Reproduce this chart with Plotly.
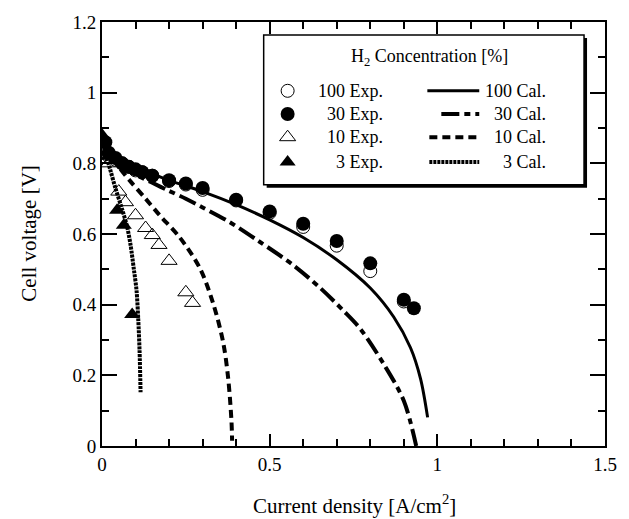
import plotly.graph_objects as go

# ---------------- data ----------------
x_100_exp = [0.0, 0.02, 0.04, 0.06, 0.08, 0.10, 0.12, 0.15, 0.20, 0.25, 0.30, 0.40, 0.50, 0.60, 0.70, 0.80, 0.90]
y_100_exp = [0.83, 0.82, 0.81, 0.80, 0.79, 0.78, 0.775, 0.765, 0.75, 0.74, 0.725, 0.695, 0.66, 0.62, 0.567, 0.495, 0.409]

x_30_exp = [0.01, 0.02, 0.04, 0.06, 0.08, 0.10, 0.12, 0.15, 0.20, 0.25, 0.30, 0.40, 0.50, 0.60, 0.70, 0.80, 0.90, 0.93]
y_30_exp = [0.86, 0.83, 0.815, 0.80, 0.79, 0.783, 0.775, 0.765, 0.752, 0.743, 0.73, 0.697, 0.664, 0.629, 0.58, 0.517, 0.414, 0.39]

x_10_exp = [0.0, 0.02, 0.05, 0.07, 0.10, 0.13, 0.15, 0.17, 0.20, 0.25, 0.27]
y_10_exp = [0.87, 0.80, 0.72, 0.69, 0.653, 0.617, 0.597, 0.569, 0.524, 0.435, 0.405]

x_3_exp = [0.0, 0.02, 0.045, 0.065, 0.09]
y_3_exp = [0.88, 0.82, 0.667, 0.625, 0.372]

x_100_cal = [0.0, 0.01, 0.03, 0.05, 0.10, 0.15, 0.20, 0.30, 0.40, 0.50, 0.60, 0.70, 0.80, 0.87, 0.92, 0.95, 0.971]
y_100_cal = [0.885, 0.86, 0.835, 0.82, 0.79, 0.77, 0.752, 0.72, 0.683, 0.64, 0.59, 0.527, 0.447, 0.365, 0.278, 0.19, 0.081]

x_30_cal = [0.0, 0.02, 0.05, 0.10, 0.15, 0.20, 0.25, 0.30, 0.38, 0.47, 0.57, 0.65, 0.72, 0.77, 0.84, 0.90, 0.937]
y_30_cal = [0.88, 0.84, 0.80, 0.768, 0.745, 0.722, 0.70, 0.675, 0.634, 0.578, 0.512, 0.448, 0.383, 0.332, 0.232, 0.128, 0.0]

x_10_cal = [0.0, 0.02, 0.05, 0.083, 0.13, 0.173, 0.232, 0.292, 0.331, 0.361, 0.376, 0.386, 0.388]
y_10_cal = [0.88, 0.835, 0.79, 0.751, 0.70, 0.652, 0.59, 0.503, 0.405, 0.295, 0.194, 0.072, 0.015]

x_3_cal = [0.0, 0.01, 0.024, 0.04, 0.06, 0.075, 0.085, 0.095, 0.103, 0.108, 0.112, 0.115]
y_3_cal = [0.87, 0.83, 0.784, 0.73, 0.67, 0.62, 0.57, 0.50, 0.44, 0.36, 0.27, 0.152]

legend_title = "H<sub>2</sub> Concentration [%]"
exp_labels = ["100 Exp.", "30 Exp.", "10 Exp.", "3 Exp."]
cal_labels = ["100 Cal.", "30 Cal.", "10 Cal.", "3 Cal."]

# ---------------- styles ----------------
FONT = "Liberation Serif, Times New Roman, serif"
W, H = 629, 519
L, R, T, B = 102, 606, 19, 446

def px(x):
    return (x - L) / (R - L)

def py(y):
    return (B - y) / (B - T)

dash_30 = "18px,5px,6px,5px"
dash_10 = "8px,5px"
dash_3 = "3px,1px"
marker_styles = [
    dict(symbol="circle-open", size=13, color="black", line=dict(width=1, color="black")),
    dict(symbol="circle", size=14, color="black"),
    dict(symbol="triangle-up-open", size=14, color="black", line=dict(width=1, color="black")),
    dict(symbol="triangle-up", size=14, color="black"),
]
line_styles = [
    dict(color="black", width=3, dash="solid"),
    dict(color="black", width=4, dash=dash_30),
    dict(color="black", width=4, dash=dash_10),
    dict(color="black", width=4, dash=dash_3),
]

fig = go.Figure()

cal = [(x_100_cal, y_100_cal), (x_30_cal, y_30_cal), (x_10_cal, y_10_cal), (x_3_cal, y_3_cal)]
exp = [(x_100_exp, y_100_exp), (x_30_exp, y_30_exp), (x_10_exp, y_10_exp), (x_3_exp, y_3_exp)]

for (xs, ys), ls, name in zip(cal, line_styles, cal_labels):
    fig.add_trace(go.Scatter(x=xs, y=ys, mode="lines", line=dict(shape="spline", smoothing=0.9, **ls),
                             name=name, showlegend=False))
for (xs, ys), ms, name in zip(exp, marker_styles, exp_labels):
    fig.add_trace(go.Scatter(x=xs, y=ys, mode="markers", marker=ms, name=name, showlegend=False))

# ---------------- custom legend ----------------
row_y = [py(88.3), py(111.7), py(135), py(160)]
mx = px(288)
line_x0 = [px(428), px(442), px(430), px(430)]
line_x1 = px(480)
for i in range(4):
    fig.add_trace(go.Scatter(x=[mx], y=[row_y[i]], mode="markers", marker=marker_styles[i],
                             xaxis="x2", yaxis="y2", showlegend=False, hoverinfo="skip"))
    fig.add_trace(go.Scatter(x=[line_x0[i], line_x1], y=[row_y[i], row_y[i]], mode="lines",
                             line=line_styles[i], xaxis="x2", yaxis="y2", showlegend=False,
                             hoverinfo="skip"))
    fig.add_annotation(x=px(386), y=row_y[i], xref="paper", yref="paper", text=exp_labels[i],
                       showarrow=False, xanchor="right", yanchor="middle",
                       font=dict(family=FONT, size=18, color="black"))
    fig.add_annotation(x=px(549), y=row_y[i], xref="paper", yref="paper", text=cal_labels[i],
                       showarrow=False, xanchor="right", yanchor="middle",
                       font=dict(family=FONT, size=18, color="black"))

fig.add_annotation(x=px(430), y=py(55), xref="paper", yref="paper", text=legend_title,
                   showarrow=False, xanchor="center", yanchor="middle",
                   font=dict(family=FONT, size=18, color="black"))

# shadow and box
fig.add_shape(type="rect", xref="paper", yref="paper", x0=px(267), x1=px(588), y0=py(186), y1=py(35),
              fillcolor="black", line=dict(width=0), layer="below")
fig.add_shape(type="rect", xref="paper", yref="paper", x0=px(264), x1=px(585), y0=py(183), y1=py(32),
              fillcolor="white", line=dict(width=1.5, color="black"), layer="below")

# axis titles
fig.add_annotation(x=px(355), y=py(505), xref="paper", yref="paper",
                   text="Current density [A/cm<sup>2</sup>]", showarrow=False,
                   xanchor="center", yanchor="middle", font=dict(family=FONT, size=21, color="black"))
fig.add_annotation(x=px(28), y=py(232), xref="paper", yref="paper",
                   text="Cell voltage [V]", showarrow=False, textangle=-90,
                   xanchor="center", yanchor="middle", font=dict(family=FONT, size=21, color="black"))

axis_common = dict(
    showgrid=False, zeroline=False, showline=True, linecolor="black", linewidth=2,
    mirror="ticks", ticks="inside", tickwidth=2, tickcolor="black",
    tickfont=dict(family=FONT, size=19, color="black"),
)
fig.update_layout(
    width=W, height=H,
    margin=dict(l=L, r=W - R, t=T, b=H - B),
    plot_bgcolor="white", paper_bgcolor="white",
    showlegend=False,
    xaxis=dict(range=[0, 1.5], tick0=0, dtick=0.5, ticklen=12,
               minor=dict(dtick=0.1, ticklen=7, ticks="inside", tickwidth=1.5, tickcolor="black"),
               **axis_common),
    yaxis=dict(range=[0, 1.2], tick0=0, dtick=0.2, ticklen=15,
               minor=dict(dtick=0.1, ticklen=7, ticks="inside", tickwidth=1.5, tickcolor="black"),
               **axis_common),
    xaxis2=dict(range=[0, 1], overlaying="x", visible=False, fixedrange=True),
    yaxis2=dict(range=[0, 1], overlaying="y", visible=False, fixedrange=True),
)

fig.write_html("out.html")
